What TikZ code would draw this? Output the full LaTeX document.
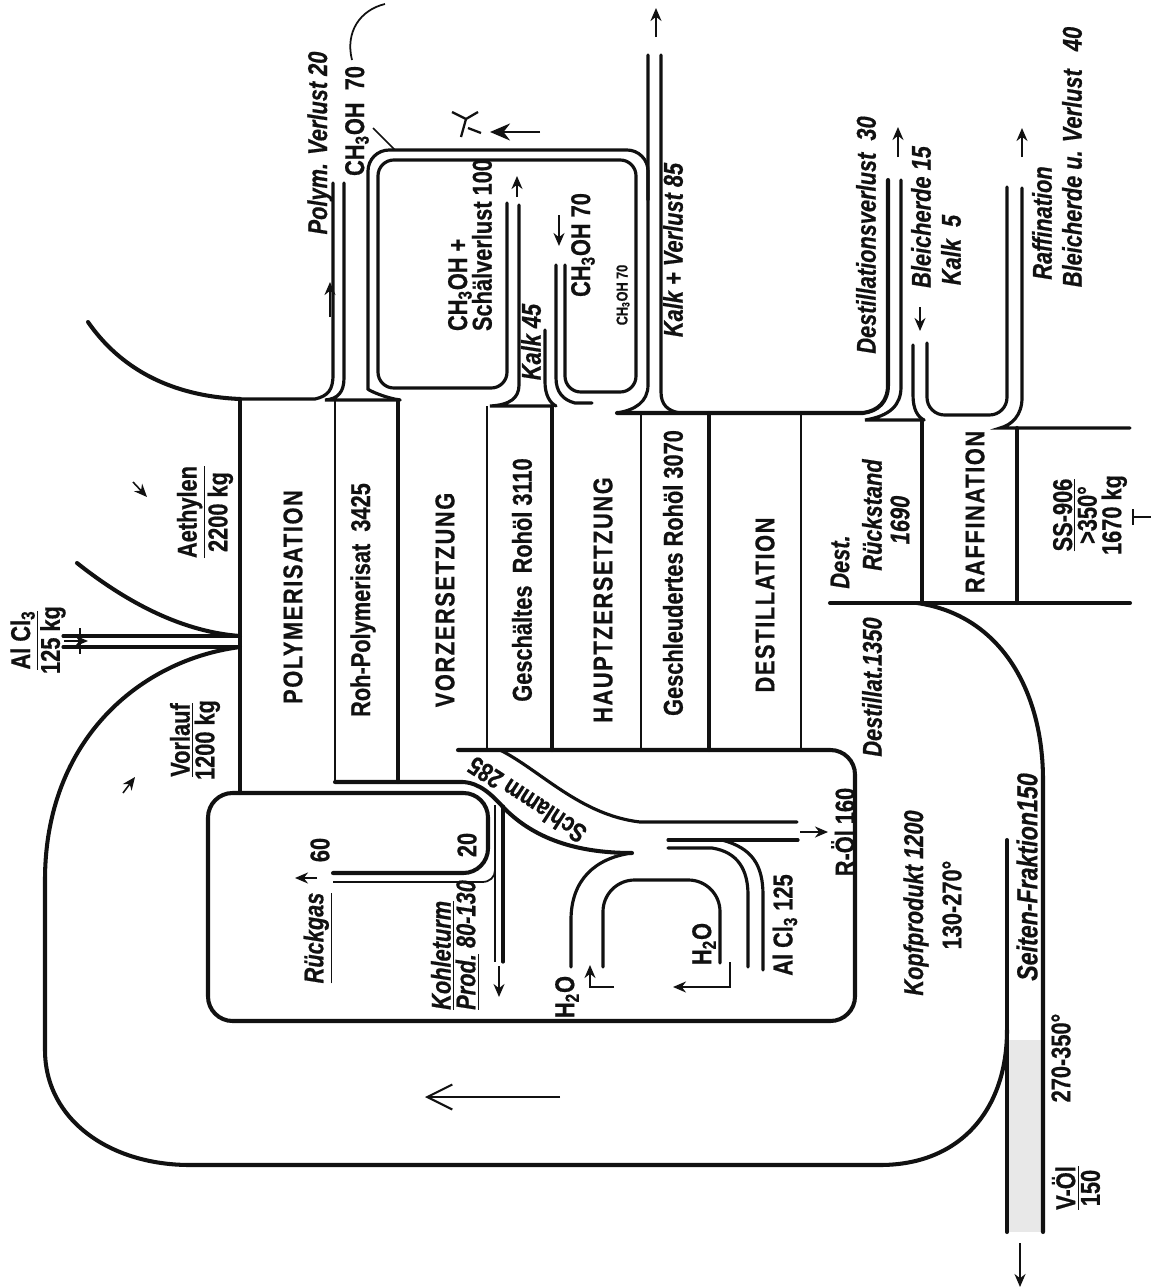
\documentclass[tikz,border=0pt]{standalone}
\usepackage{fontspec}
\setmainfont{Liberation Sans}[FakeStretch=0.8, FakeBold=0.6]
\usetikzlibrary{arrows.meta}
\definecolor{ink}{HTML}{111111}
\tikzset{
  wall/.style={line width=2.3pt, color=ink, line cap=round},
  pipe/.style={line width=1.8pt, color=ink, line cap=round},
  fine/.style={line width=1.0pt, color=ink},
  flowarr/.style={-{Stealth[length=2.6mm,width=2.2mm]}, line width=1.2pt, color=ink},
  lab/.style={rotate=90, inner sep=0pt, text=ink, font=\bfseries\fontsize{15.5}{14}\selectfont},
  ilab/.style={lab, font=\bfseries\itshape\fontsize{15.5}{14}\selectfont},
  caps/.style={lab, font=\bfseries\fontsize{15.5}{14}\selectfont\addfontfeatures{LetterSpace=6}},
  slab/.style={lab, font=\bfseries\fontsize{9}{10}\selectfont},
  curvlab/.style={inner sep=0pt, text=ink, font=\bfseries\fontsize{15}{14}\selectfont}
}

\begin{document}
\begin{tikzpicture}[x=0.02cm, y=-0.02cm]
\useasboundingbox (0,0) rectangle (1151,1288);
\fill[white] (0,0) rectangle (1151,1288);
\fill[gray!18] (1007,1040) rectangle (1043,1232);

% feeds on the left
\draw[wall] (88,322) .. controls (120,368) and (170,396) .. (240,399);
\draw[wall] (77,563) .. controls (130,605) and (185,632) .. (240,636);
\draw[pipe] (63,636) -- (240,636);
\draw[pipe] (63,647) -- (240,647);
\draw[fine] (80,628) -- (80,654);
\draw[flowarr] (64,641) -- (88,641);
\draw[flowarr, line width=0.9pt] (133,482) -- (147,497);
\draw[flowarr, line width=0.9pt] (123,793) -- (135,777);

% recycle loop (Kopfprodukt)
\draw[wall] (240,647) .. controls (140,660) and (45,740) .. (45,880) -- (45,1050)
  .. controls (45,1120) and (110,1165) .. (190,1165) -- (880,1165)
  .. controls (960,1165) and (1007,1110) .. (1007,1030);
\draw[wall] (1007,840) -- (1007,1232);
\draw[wall] (917,603) .. controls (1000,615) and (1043,690) .. (1043,780) -- (1043,1232);
\draw[-{Straight Barb[length=5mm,width=5mm]}, line width=1.2pt, color=ink] (560,1097) -- (425,1097);

% top: polymerisation and loss pipes
\draw[wall] (240,399) -- (240,793);
\draw[pipe] (240,399) -- (315,399) .. controls (328,396) and (333,390) .. (333,375) -- (333,183);
\draw[pipe] (344,183) -- (344,378) .. controls (344,392) and (338,399) .. (325,400) -- (400,400);
\draw[flowarr] (330,317) -- (330,282);
\draw[fine] (352,60) .. controls (345,32) and (360,10) .. (385,4);
\draw[fine] (373,128) -- (395,150);

% methanol loop
\draw[pipe, rounded corners=12pt] (400,400) .. controls (385,398) and (368,390) .. (368,368)
  -- (368,150) -- (648,150) -- (648,200);
\draw[pipe, rounded corners=9pt] (507,203) -- (507,388) -- (378,388) -- (378,160)
  -- (636,160) -- (636,392) -- (565,392) -- (565,265);
\draw[pipe] (519,205) -- (519,385) .. controls (519,398) and (510,405) .. (490,406) -- (552,406);
\draw[pipe] (545,330) -- (545,382) .. controls (545,395) and (550,403) .. (556,406);
\draw[pipe] (556,265) -- (556,378) .. controls (556,392) and (563,400) .. (575,403) -- (592,403);
\draw[flowarr] (517,197) -- (517,176);
\draw[flowarr] (559,215) -- (559,246);
\draw[-{Stealth[length=4mm,width=3.4mm]}, line width=1.6pt, color=ink] (540,132) -- (490,132);
\draw[fine, line width=1.3pt] (452,112) -- (466,119) -- (478,112);
\draw[fine, line width=1.3pt] (466,119) -- (461,137);
\draw[fine, line width=1.3pt] (468,128) -- (481,133);

% Kalk + Verlust pipe
\draw[pipe] (648,55) -- (648,385) .. controls (648,402) and (635,410) .. (617,413);
\draw[pipe] (661,55) -- (661,392) .. controls (661,405) and (668,411) .. (680,413);
\draw[flowarr] (656,37) -- (656,8);

% distillation and refining tops
\draw[wall] (617,413) -- (863,413) .. controls (878,411) and (888,402) .. (888,385) -- (888,180);
\draw[pipe] (901,180) -- (901,387) .. controls (901,405) and (890,416) .. (865,420) -- (924,420);
\draw[pipe] (913,345) -- (913,395) .. controls (913,410) and (918,417) .. (924,420);
\draw[pipe, rounded corners=10pt] (927,343) -- (927,415) -- (1007,415) -- (1007,187);
\draw[pipe] (1022,188) -- (1022,398) .. controls (1022,415) and (1012,425) .. (1000,428) -- (1130,428);
\draw[wall] (922,420) -- (922,603);
\draw[wall] (1017,428) -- (1017,603);
\draw[wall] (830,603) -- (1130,603);
\draw[flowarr] (898,157) -- (898,127);
\draw[flowarr] (920,307) -- (920,331);
\draw[flowarr] (1022,157) -- (1022,128);
\draw[fine] (1133,509) -- (1133,525);
\draw[fine] (1133,517) -- (1151,517);

% column walls
\draw[fine] (335,400) -- (335,782);
\draw[wall] (398,400) -- (398,782);
\draw[fine] (487,406) -- (487,750);
\draw[wall] (552,406) -- (552,750);
\draw[fine] (641,413) -- (641,750);
\draw[wall] (709,413) -- (709,750);
\draw[fine] (801,413) -- (801,750);

% Schlamm band and lower box
\draw[wall] (335,782) -- (463,782) .. controls (480,783) and (492,795) .. (503,807)
  .. controls (530,835) and (570,853) .. (632,853);
\draw[pipe] (632,853) .. controls (595,858) and (571,880) .. (571,920) -- (571,967);
\draw[pipe] (500,750) .. controls (540,770) and (580,815) .. (640,822) -- (797,822);
\draw[pipe] (668,840) -- (798,840);
\draw[pipe] (668,848) -- (712,848) .. controls (738,852) and (748,870) .. (748,895) -- (748,967);
\draw[pipe] (722,840) .. controls (752,848) and (763,865) .. (763,895) -- (763,970);
\draw[pipe, rounded corners=18pt] (603,967) -- (603,880) -- (720,880) -- (720,963);
\draw[flowarr] (800,832) -- (828,832);
\draw[flowarr] (614,987) -- (590,987) -- (590,965);
\draw[flowarr] (730,962) -- (730,987) -- (673,987);

\draw[wall, rounded corners=14pt] (458,750) -- (855,750) -- (855,1021) -- (208,1021)
  -- (208,793) -- (488,793) -- (488,873) -- (333,873);
\draw[fine] (333,882) -- (482,882) .. controls (490,882) and (495,877) .. (495,870);
\draw[fine] (495,805) -- (495,962);
\draw[pipe] (503,806) -- (503,962);
\draw[flowarr] (499,966) -- (499,997);
\draw[flowarr] (317,878) -- (295,878);
\draw[flowarr] (1020,1243) -- (1020,1287);

% labels
\node[lab, align=center] (aeth) at (205,512) {\underline{Aethylen}\\2200 kg};
\node[lab, align=center] (alcl) at (38,640) {\underline{Al Cl\textsubscript{3}}\\125 kg};
\node[lab, align=center] (vorl) at (195,740) {\underline{Vorlauf}\\1200 kg};
\node[ilab] (polyv) at (320,143) {Polym. Verlust 20};
\node[lab] (meth1) at (357,121) {CH\textsubscript{3}OH\ \ 70};
\node[lab, align=left] (schael) at (470,245) {CH\textsubscript{3}OH +\\Schälverlust 100};
\node[ilab] (kalk45) at (531,342) {Kalk 45};
\node[lab] (meth2) at (583,245) {CH\textsubscript{3}OH 70};
\node[slab] (meth3) at (623,295) {CH\textsubscript{3}OH 70};
\node[ilab] (kalk85) at (673,250) {Kalk + Verlust 85};
\node[ilab] (destv) at (866,235) {Destillationsverlust\ \ 30};
\node[ilab] (bleich) at (921,217) {Bleicherde 15};
\node[ilab] (kalk5) at (951,250) {Kalk\ \ 5};
\node[ilab] (raffl) at (1042,223) {Raffination};
\node[ilab] (bleichv) at (1072,157) {Bleicherde u. Verlust\ \ \ 40};
\node[caps] (poly) at (293,597) {POLYMERISATION};
\node[lab] (rohpoly) at (363,600) {Roh-Polymerisat\ \ 3425};
\node[caps] (vorz) at (445,600) {VORZERSETZUNG};
\node[lab] (gesch) at (522,580) {Geschältes\ \ Rohöl 3110};
\node[caps] (haupt) at (603,600) {HAUPTZERSETZUNG};
\node[lab] (geschl) at (673,573) {Geschleudertes Rohöl 3070};
\node[caps] (dest) at (765,605) {DESTILLATION};
\node[ilab] (destr1) at (840,562) {Dest.};
\node[ilab] (destr2) at (872,515) {Rückstand};
\node[ilab] (destr3) at (900,520) {1690};
\node[caps] (raff) at (975,512) {RAFFINATION};
\node[lab, align=center] (ss) at (1090,515) {\underline{SS-906}\\>350°\\1670 kg};
\node[ilab] (destl) at (872,687) {Destillat.1350};
\node[curvlab, rotate=147] (schl) at (527,800) {Schlamm 285};
\node[lab] (roel) at (843,832) {R-Öl 160};
\node[lab] (alcl2) at (785,925) {Al Cl\textsubscript{3} 125};
\node[lab] (wat1) at (704,944) {H\textsubscript{2}O};
\node[lab] (wat2) at (567,997) {H\textsubscript{2}O};
\node[ilab] (rueck) at (318,938) {\underline{Rückgas}};
\node[lab] (r60) at (320,850) {60};
\node[lab] (r20) at (467,845) {20};
\node[ilab, align=left] (kohle) at (455,945) {\underline{Kohleturm}\\\underline{Prod.} 80-130};
\node[ilab] (kopf) at (916,903) {Kopfprodukt 1200};
\node[lab] (kopft) at (952,905) {130-270°};
\node[ilab, font=\bfseries\itshape\fontsize{16.5}{14}\selectfont] (seit) at (1027,877) {Seiten-Fraktion150};
\node[lab] (seitt) at (1061,1058) {270-350°};
\node[lab, align=center] (voel) at (1076,1188) {\underline{V-Öl}\\150};
\end{tikzpicture}
\end{document}
